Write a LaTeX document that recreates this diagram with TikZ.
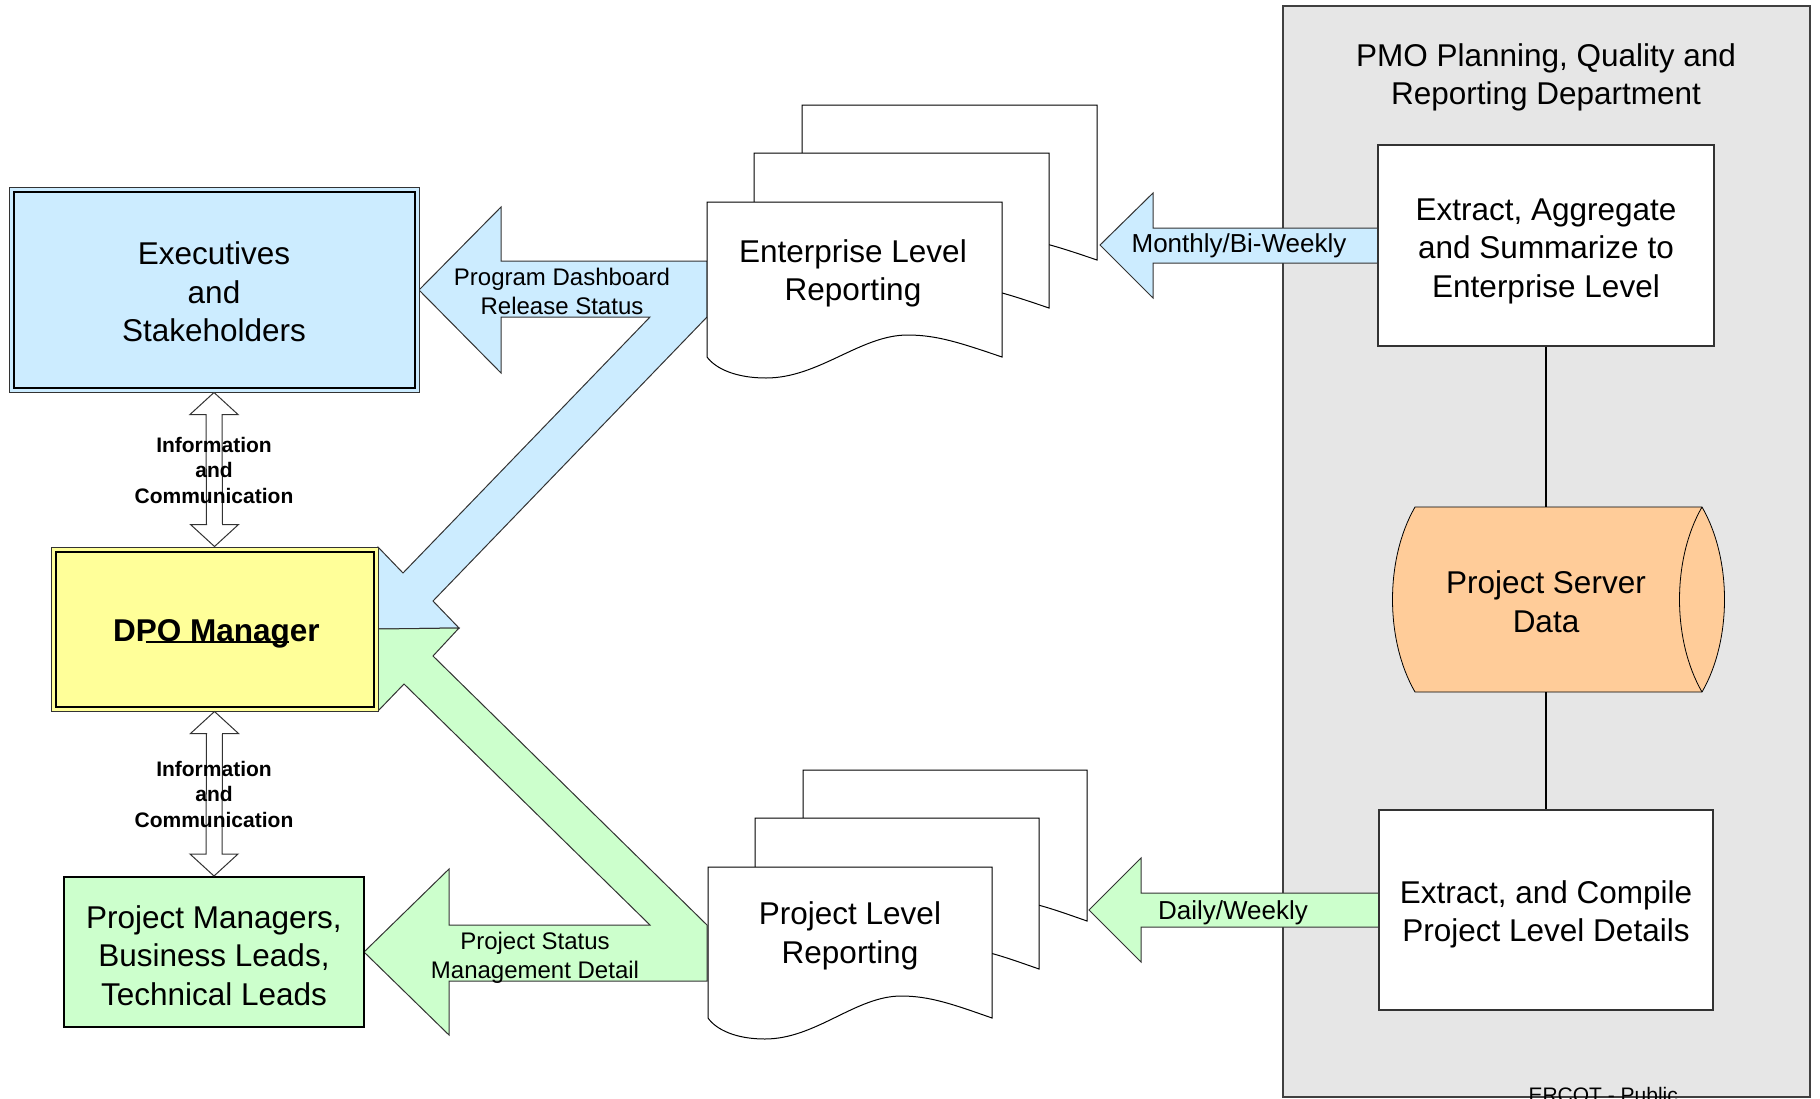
\documentclass[tikz,border=0pt]{standalone}
\usepackage{fontspec}
\setmainfont{Liberation Sans}
\usetikzlibrary{calc}

\definecolor{execblue}{HTML}{CCECFF}
\definecolor{dpoyellow}{HTML}{FFFF99}
\definecolor{leadgreen}{HTML}{CCFFCC}
\definecolor{dataorange}{HTML}{FFCC99}
\definecolor{pmogray}{HTML}{E6E6E6}
\definecolor{edgegray}{HTML}{333333}

% one report page: left, top, width, height
\newcommand{\reportpage}[4]{%
  \draw[page] ({#1},{#2}) -- ({#1+#3},{#2}) -- ({#1+#3},{#2+#4})
    .. controls ({#1+0.86*#3},{#2+#4-14}) and ({#1+0.78*#3},{#2+#4-22}) .. ({#1+0.68*#3},{#2+#4-22})
    .. controls ({#1+0.52*#3},{#2+#4-22}) and ({#1+0.38*#3},{#2+#4+21}) .. ({#1+0.2*#3},{#2+#4+21})
    .. controls ({#1+0.1*#3},{#2+#4+21}) and ({#1+0.03*#3},{#2+#4+12}) .. ({#1},{#2+#4}) -- cycle;}
\newcommand{\reportstack}[4]{%
  \reportpage{#1+95}{#2-97}{#3}{#4}
  \reportpage{#1+47}{#2-49}{#3}{#4}
  \reportpage{#1}{#2}{#3}{#4}}

\begin{document}
\begin{tikzpicture}[x=1pt, y=-1pt,
   big/.style={font=\fontsize{31.5}{38.5}\selectfont, align=center},
   mid/.style={font=\fontsize{24}{29}\selectfont, align=center},
   freq/.style={font=\fontsize{26}{31}\selectfont},
   info/.style={font=\bfseries\fontsize{21}{25.5}\selectfont, align=center},
   box/.style={inner sep=0pt},
   page/.style={draw=black, line width=1pt, fill=white},
   block/.style={draw=edgegray, line width=1pt, line join=miter},
   twoway/.style={draw=edgegray, line width=1pt, fill=white}]
   \useasboundingbox (0,0) rectangle (1820,1098);
   % PMO department panel
   \draw[fill=pmogray, draw=black!75, line width=1.5pt] (1283,6) rectangle (1810,1097);
   \node[big] (pmo) at (1546,77.5) {PMO Planning, Quality and\\Reporting Department};
   \node[anchor=base west, font=\fontsize{21}{25}\selectfont] (ercot) at (1525,1102) {ERCOT - Public};
   % block arrows
   \draw[block, fill=execblue] (419,290) -- (501,207) -- (501,261) -- (707,261) -- (707,317) -- (433,601)
      -- (459,628) -- (378,629) -- (378,547) -- (403,573) -- (650,317) -- (501,317) -- (501,373) -- cycle;
   \draw[block, fill=leadgreen] (364,952) -- (449,869) -- (449,925) -- (650,925) -- (404,684) -- (378,711)
      -- (378,629) -- (459,628) -- (433,656) -- (707,925) -- (707,981) -- (449,981) -- (449,1035) -- cycle;
   \draw[block, fill=execblue] (1100,245) -- (1153,193) -- (1153,228) -- (1379,228) -- (1379,263) -- (1153,263) -- (1153,298) -- cycle;
   \draw[block, fill=leadgreen] (1089,910) -- (1141,858) -- (1141,893) -- (1380,893) -- (1380,927) -- (1141,927) -- (1141,962) -- cycle;
   % report stacks
   \reportstack{707}{202}{295}{155}
   \reportstack{708}{867}{284}{151}
   \node[big] (entrep) at (853,273.5) {Enterprise Level\\Reporting};
   \node[big] (projrep) at (850,936) {Project Level\\Reporting};
   \node[mid] (dash) at (562,291) {Program Dashboard\\Release Status};
   \node[mid] (status) at (535,957.5) {Project Status\\Management Detail};
   \node[freq] (monthly) at (1239,246) {Monthly/Bi-Weekly};
   \node[freq] (daily) at (1233,913) {Daily/Weekly};
   % PMO steps
   \node[box, draw=edgegray, line width=1.2pt, fill=white, minimum width=336pt, minimum height=201pt] (agg) at (1546,245.5) {};
   \node[big] (aggtext) at ($(agg.center)+(0,5.5)$) {Extract, Aggregate\\and Summarize to\\Enterprise Level};
   \node[box, draw=edgegray, line width=1.2pt, fill=white, minimum width=334pt, minimum height=200pt] (cmp) at (1546,910) {};
   \node[big] (cmptext) at ($(cmp.center)+(0,4.5)$) {Extract, and Compile\\Project Level Details};
   \draw[fill=dataorange, draw=black, line width=0.8pt] (1415,507) -- (1702,507) .. controls (1732,559) and (1732,640) .. (1702,692)
      -- (1415,692) .. controls (1385,640) and (1385,559) .. (1415,507) -- cycle;
   \draw[black, line width=0.8pt] (1702,507) .. controls (1672,559) and (1672,640) .. (1702,692);
   \node[box, minimum width=260pt, minimum height=185pt] (psd) at (1546,599.5) {};
   \node[big] (psdtext) at ($(psd.center)+(0,2)$) {Project Server\\Data};
   \draw[line width=1.5pt] (agg) -- (psd);
   \draw[line width=1.5pt] (psd) -- (cmp);
   % people
   \node[box, draw=black!80, line width=1pt, fill=execblue, minimum width=410pt, minimum height=205pt] (exec) at (214,289.5) {};
   \draw[line width=2pt] ($(exec.north west)+(5,5)$) rectangle ($(exec.south east)+(-5,-5)$);
   \node[big] (exectext) at ($(exec.center)+(0,2.5)$) {Executives\\and\\Stakeholders};
   \node[box, draw=black!80, line width=1pt, fill=dpoyellow, minimum width=327pt, minimum height=164pt] (dpo) at (214.5,629) {};
   \draw[line width=2pt] ($(dpo.north west)+(5,5)$) rectangle ($(dpo.south east)+(-5,-5)$);
   \node[big, font=\bfseries\fontsize{31.5}{38.5}\selectfont] (dpotext) at ($(dpo.center)+(2,4.5)$) {DPO Manager};
   \draw[line width=2.5pt] ($(dpotext.base)+(-71,1)$) -- ($(dpotext.base)+(72,1)$);
   \node[box, draw=black, line width=2pt, fill=leadgreen, minimum width=300pt, minimum height=150pt] (pms) at (214,952) {};
   \node[big] (pmstext) at ($(pms.center)+(0,3.5)$) {Project Managers,\\Business Leads,\\Technical Leads};
   % information and communication
   \draw[twoway] (exec.south) -- ++(24,22) -- ++(-16,0) -- ($(dpo.north)+(8,-22)$) -- ++(16,0) -- (dpo.north)
      -- ++(-24,-22) -- ++(16,0) -- ($(exec.south)+(-8,22)$) -- ++(-16,0) -- cycle;
   \draw[twoway] (dpo.south) -- ++(24,22) -- ++(-16,0) -- ($(pms.north)+(8,-22)$) -- ++(16,0) -- (pms.north)
      -- ++(-24,-22) -- ++(16,0) -- ($(dpo.south)+(-8,22)$) -- ++(-16,0) -- cycle;
   \node[info] (info1) at (214,470) {Information\\and\\Communication};
   \node[info] (info2) at (214,794) {Information\\and\\Communication};
 \end{tikzpicture}
\end{document}
